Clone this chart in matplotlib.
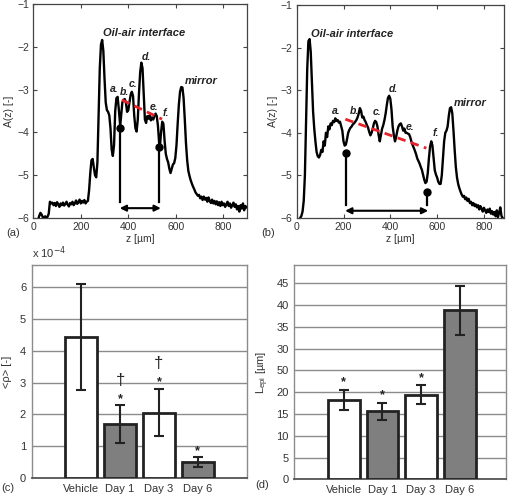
import matplotlib
matplotlib.use('Agg')
import matplotlib.pyplot as plt

plt.rcParams['font.family'] = ['Liberation Sans', 'DejaVu Sans']

# --- (a) depth profile, vehicle skin ---
z_a = [20, 25, 30, 35, 40, 45, 50, 55, 60, 65, 70, 75, 80, 85, 90, 95, 100, 105, 110, 115,
       120, 125, 130, 135, 140, 145, 150, 155, 160, 165, 170, 175, 180, 185, 190, 195, 200,
       205, 210, 215, 220, 225, 230, 235, 240, 245, 250, 255, 260, 265, 270, 275, 280, 285,
       290, 295, 300, 305, 310, 315, 320, 325, 330, 335, 340, 345, 350, 355, 360, 366, 370,
       375, 380, 385, 390, 395, 400, 405, 410, 415, 420, 425, 430, 435, 440, 445, 450, 455,
       460, 465, 470, 475, 480, 485, 490, 495, 500, 505, 510, 515, 520, 525, 530, 533, 538,
       543, 548, 553, 558, 563, 568, 573, 578, 583, 588, 593, 598, 603, 608, 613, 618, 623,
       628, 633, 638, 643, 648, 653, 658, 663, 668, 673, 678, 683, 688, 693, 698, 703, 708,
       713, 718, 723, 728, 733, 738, 743, 748, 753, 758, 763, 768, 773, 778, 783, 788, 793,
       798, 803, 808, 813, 818, 823, 828, 833, 838, 843, 848, 853, 858, 863, 868, 873, 878,
       883, 888, 893, 898]
A_a = [-6.05, -5.95, -5.88, -5.92, -5.98, -6.02, -5.96, -6.0, -5.97, -5.9, -5.62, -5.66,
       -5.64, -5.70, -5.65, -5.72, -5.63, -5.68, -5.74, -5.66, -5.70, -5.64, -5.71, -5.67,
       -5.62, -5.69, -5.73, -5.65, -5.68, -5.62, -5.70, -5.66, -5.59, -5.67, -5.63, -5.57,
       -5.66, -5.60, -5.64, -5.58, -5.66, -5.62, -5.60, -5.35, -4.95, -4.65, -4.62, -4.82,
       -5.0, -5.05, -4.7, -3.6, -2.5, -1.95, -1.84, -2.1, -2.75, -3.3, -3.48, -3.52, -3.6,
       -3.9, -4.4, -4.55, -4.3, -3.5, -3.2, -3.17, -3.45, -3.85, -3.6, -3.3, -3.24, -3.22,
       -3.3, -3.52, -3.48, -3.3, -3.12, -3.05, -3.15, -3.6, -3.9, -3.98, -3.7, -3.1, -2.6,
       -2.37, -2.5, -3.1, -3.7, -3.78, -3.62, -3.68, -3.6, -3.72, -3.65, -3.7, -3.62, -3.56,
       -3.62, -3.85, -4.25, -4.35, -4.0, -3.75, -3.8, -4.2, -4.5, -4.62, -4.7, -4.85, -4.95,
       -4.85, -4.75, -4.72, -4.6, -4.3, -3.8, -3.35, -3.05, -2.94, -2.95, -3.2, -3.7, -4.25,
       -4.65, -4.9, -5.02, -5.12, -5.2, -5.27, -5.33, -5.4, -5.44, -5.48, -5.46, -5.54, -5.5,
       -5.58, -5.5, -5.57, -5.53, -5.62, -5.52, -5.6, -5.65, -5.57, -5.66, -5.6, -5.68, -5.61,
       -5.7, -5.63, -5.72, -5.62, -5.7, -5.66, -5.74, -5.68, -5.62, -5.72, -5.66, -5.76, -5.7,
       -5.64, -5.74, -5.68, -5.8, -5.72, -5.85, -5.7, -5.78, -5.66, -5.82, -5.72, -5.75]

# --- (b) depth profile, day 6 ---
z_b = [0, 10, 20, 25, 30, 35, 40, 45, 50, 55, 60, 65, 70, 75, 80, 85, 90, 95, 100, 105,
       110, 115, 120, 125, 130, 135, 140, 145, 150, 155, 160, 165, 170, 175, 180, 185, 190,
       195, 200, 205, 210, 215, 220, 225, 230, 235, 240, 245, 250, 255, 260, 265, 270, 275,
       280, 285, 290, 295, 300, 305, 310, 315, 320, 325, 330, 335, 340, 345, 350, 355, 360,
       365, 370, 375, 380, 385, 390, 395, 400, 405, 410, 415, 420, 425, 430, 435, 440, 445,
       450, 455, 460, 465, 470, 475, 480, 485, 490, 495, 500, 505, 510, 515, 520, 525, 530,
       535, 540, 545, 550, 555, 560, 565, 570, 575, 580, 585, 590, 595, 600, 605, 610, 615,
       620, 625, 630, 635, 640, 645, 650, 655, 660, 665, 670, 675, 680, 685, 690, 695, 700,
       705, 710, 715, 720, 725, 730, 735, 740, 745, 750, 755, 760, 765, 770, 775, 780, 785,
       790, 795, 800, 805, 810, 815, 820, 825, 830, 835, 840, 845, 850, 855, 860, 865, 870,
       875, 880]
A_b = [-6.3, -6.05, -5.95, -5.85, -5.6, -5.0, -3.8, -2.5, -1.85, -1.8, -2.1, -2.8, -3.5,
       -3.9, -4.2, -4.45, -4.55, -4.58, -4.52, -4.4, -4.45, -4.2, -4.3, -4.0, -4.1, -3.85,
       -3.92, -3.78, -3.82, -3.72, -3.75, -3.66, -3.72, -3.7, -3.76, -3.74, -3.85, -3.95,
       -4.2, -4.3, -4.28, -4.15, -4.0, -3.93, -3.88, -3.85, -3.8, -3.78, -3.74, -3.7, -3.64,
       -3.55, -3.42, -3.48, -3.64, -3.62, -3.7, -3.75, -3.82, -3.88, -3.98, -4.06, -4.0, -3.9,
       -3.78, -3.72, -3.75, -3.85, -4.05, -4.2, -4.05, -3.9, -3.82, -3.7, -3.55, -3.35, -3.18,
       -3.13, -3.2, -3.45, -3.85, -4.05, -4.2, -4.1, -3.95, -3.85, -3.8, -3.78, -3.85, -3.95,
       -3.9, -4.0, -4.0, -4.02, -4.03, -4.1, -4.2, -4.28, -4.35, -4.42, -4.5, -4.6, -4.66,
       -4.72, -4.8, -4.87, -4.98, -5.1, -5.18, -5.15, -4.95, -4.6, -4.32, -4.2, -4.3, -4.6,
       -4.88, -4.98, -5.05, -5.15, -5.2, -5.2, -5.0, -4.6, -4.2, -4.0, -3.95, -3.85, -3.6,
       -3.42, -3.4, -3.55, -3.95, -4.4, -4.8, -5.05, -5.2, -5.3, -5.38, -5.45, -5.5, -5.48,
       -5.56, -5.52, -5.6, -5.55, -5.65, -5.62, -5.7, -5.65, -5.72, -5.68, -5.75, -5.7, -5.8,
       -5.72, -5.78, -5.85, -5.76, -5.82, -5.88, -5.8, -5.86, -5.78, -5.9, -5.84, -5.92,
       -5.86, -5.96, -5.82, -5.98, -5.88, -5.75, -5.95, -6.0]

# epidermis boundaries (dots) and slope fit (red dashes)
bounds_a = [(366, -3.9), (531, -4.33)]
fit_a = [(373, -3.24), (542, -3.69)]
bounds_b = [(209, -4.48), (556, -5.40)]
fit_b = [(208, -3.68), (554, -4.36)]

# --- (c)/(d) bar charts ---
groups = ['Vehicle', 'Day 1', 'Day 3', 'Day 6']
rho_mean = [4.42, 1.70, 2.06, 0.52]   # x 1e-4
rho_err = [1.65, 0.58, 0.75, 0.16]
lepi_mean = [18.3, 15.6, 19.4, 38.8]
lepi_err = [2.3, 2.0, 2.2, 5.6]
bar_colors = ['white', '#7f7f7f', 'white', '#7f7f7f']

W, H = 510, 497
fig = plt.figure(figsize=(W / 100, H / 100), dpi=100)


def px_axes(left, top, right, bottom):
    return fig.add_axes([left / W, 1 - bottom / H, (right - left) / W, (bottom - top) / H])


ink = '#222222'
note_font = dict(fontweight='bold', fontstyle='italic', color=ink)


def profile_panel(ax, z, A, bounds, fit, arrow_y, line_bottom, labels, xmax):
    ax.plot(z, A, color='black', lw=1.7, zorder=3)
    ax.set_xlim(0, xmax)
    ax.set_ylim(-6, -1)
    ax.set_xticks([0, 200, 400, 600, 800])
    ax.set_yticks([-6, -5, -4, -3, -2, -1])
    ax.tick_params(direction='in', top=True, right=True, length=3, width=0.8,
                   color='#444444', labelcolor='#333333', labelsize=7.5, pad=3)
    for s in ax.spines.values():
        s.set_color('#444444')
        s.set_linewidth(0.9)
    ax.set_xlabel('z [µm]', fontsize=7.5, color='#333333', labelpad=1)
    ax.set_ylabel('A(z) [-]', fontsize=7.5, color='#333333', labelpad=2)
    # boundary markers
    for bx, by in bounds:
        ax.plot([bx, bx], [by, line_bottom], color='black', lw=1.6, zorder=4)
        ax.plot(bx, by, 'o', color='black', ms=5, zorder=5)
    ax.annotate('', xy=(bounds[1][0] + 6, arrow_y), xytext=(bounds[0][0] - 2, arrow_y),
                arrowprops=dict(arrowstyle='<|-|>', color='black', lw=1.5,
                                mutation_scale=9, shrinkA=0, shrinkB=0), zorder=5)
    (x0, y0), (x1, y1) = fit
    ax.plot([x0, x1], [y0, y1], color='#e8202a', lw=2, dashes=(3, 2), zorder=4)
    for txt, x, y, ha in labels:
        fs = 8 if len(txt) > 2 else 7.5
        ax.text(x, y, txt, ha=ha, va='center', fontsize=fs, **note_font)


ax_a = px_axes(33.3, 4, 247, 218)
profile_panel(ax_a, z_a, A_a, bounds_a, fit_a, -5.77, -5.63,
              [('Oil-air interface', 467, -1.68, 'center'), ('a.', 343, -2.99, 'center'),
               ('b.', 385, -3.06, 'center'), ('c.', 419, -2.87, 'center'),
               ('d.', 477, -2.23, 'center'), ('e.', 507, -3.40, 'center'),
               ('f.', 557, -3.54, 'center'), ('mirror', 639, -2.81, 'left')], 900)

ax_b = px_axes(296.7, 5, 503.8, 218)
profile_panel(ax_b, z_b, A_b, bounds_b, fit_b, -5.83, -5.69,
              [('Oil-air interface', 236, -1.67, 'center'), ('a.', 168, -3.48, 'center'),
               ('b.', 247, -3.48, 'center'), ('c.', 343, -3.52, 'center'),
               ('d.', 411, -2.98, 'center'), ('e.', 484, -3.87, 'center'),
               ('f.', 593, -4.0, 'center'), ('mirror', 672, -3.31, 'left')], 885)


def bar_panel(ax, mean, err, ymax, xmax):
    x = list(range(len(groups)))
    ax.bar(x, mean, width=0.82, color=bar_colors, edgecolor=ink, linewidth=2, zorder=3)
    ax.errorbar(x, mean, yerr=err, fmt='none', ecolor=ink, elinewidth=1.5,
                capsize=3.5, capthick=1.5, zorder=4)
    ax.set_xlim(-1.28, xmax)
    ax.set_ylim(0, ymax)
    ax.set_xticks(x)
    ax.set_xticklabels(groups)
    ax.yaxis.grid(True, color='#8c8c8c', lw=1)
    ax.set_axisbelow(True)
    ax.tick_params(length=0, labelsize=8, labelcolor='#333333', pad=4)
    for s in ax.spines.values():
        s.set_color('#8c8c8c')
        s.set_linewidth(1)
    ax.spines['bottom'].set_color('#555555')
    ax.spines['bottom'].set_linewidth(1.3)


ax_c = px_axes(31.7, 265, 247.3, 478.3)
bar_panel(ax_c, rho_mean, rho_err, 6.68, 4.28)
ax_c.set_yticks([0, 1, 2, 3, 4, 5, 6])
ax_c.set_ylabel('<ρ> [-]', fontsize=8, color='#333333', labelpad=6)
ax_c.text(0.0, 1.02, r'x 10$^{-4}$', transform=ax_c.transAxes, fontsize=8, color='#333333',
          ha='left', va='bottom')
for i, y in [(1, 2.48), (2, 3.0), (3, 0.85)]:
    ax_c.text(i, y, '*', ha='center', va='center', fontsize=9, fontweight='bold', color=ink)
for i, y in [(1, 3.05), (2, 3.6)]:
    ax_c.text(i, y, '†', ha='center', va='center', fontsize=12, color=ink)

ax_d = px_axes(294.3, 265, 505.7, 479.3)
bar_panel(ax_d, lepi_mean, lepi_err, 49.2, 4.19)
ax_d.set_yticks([0, 5, 10, 15, 20, 25, 30, 35, 40, 45])
ax_d.set_yticklabels(['0', '5', '10', '15', '20', '50', '30', '35', '40', '45'])
ax_d.set_ylabel(r'L$_{\mathregular{epi}}$ [µm]', fontsize=8, color='#333333', labelpad=4)
for i, y in [(0, 22.2), (1, 19.3), (2, 23.3)]:
    ax_d.text(i, y, '*', ha='center', va='center', fontsize=9, fontweight='bold', color=ink)

for txt, x, y in [('(a)', 13, 233), ('(b)', 268, 233), ('(c)', 8, 488), ('(d)', 262, 485)]:
    fig.text(x / W, 1 - y / H, txt, fontsize=8, color='#333333', ha='center', va='center')

fig.savefig('out.png', dpi=100)
